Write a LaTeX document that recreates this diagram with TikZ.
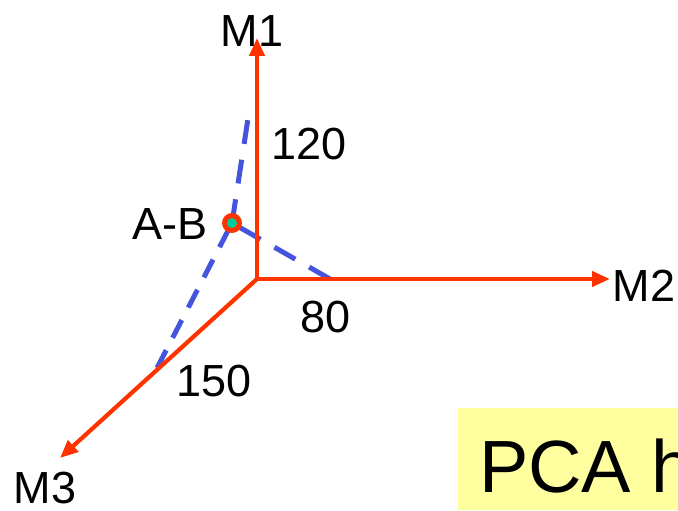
\documentclass[tikz,border=0pt]{standalone}
\usepackage{fontspec}
\setmainfont{Liberation Sans}
\usetikzlibrary{arrows.meta}
\definecolor{axisred}{RGB}{255,51,0}
\definecolor{dashblue}{RGB}{68,84,221}
\definecolor{dotteal}{RGB}{0,204,153}
\definecolor{boxyellow}{RGB}{255,255,160}
\begin{document}
\begin{tikzpicture}[x=1pt,y=1pt,
  axis/.style={draw=axisred,line width=4.2pt,-{Triangle[length=18pt,width=15pt]}},
  proj/.style={draw=dashblue,line width=5pt,dash pattern=on 24pt off 16pt},
  lbl/.style={inner sep=0pt,anchor=base,font=\fontsize{45}{50}\selectfont}]
\useasboundingbox (0,0) rectangle (678,511);
\clip (0,0) rectangle (678,511);
\coordinate (O) at (257,232);
\coordinate (T1) at (257,473);
\coordinate (T2) at (610,232);
\coordinate (T3) at (60,53);
\coordinate (P) at (232,288);
\coordinate (D1) at (249,399);
\coordinate (D2) at (330,232);
\coordinate (D3) at (157,143);
\draw[proj] (P) -- (D1);
\draw[proj] (D2) -- (P);
\draw[proj,dash pattern=on 20pt off 14pt] (D3) -- (P);
\draw[axis] (O) -- (T1);
\draw[axis] (O) -- (T2);
\draw[axis] (O) -- (T3);
\fill[axisred] (P) circle (10pt);
\fill[dotteal] (P) circle (5pt);
\node[lbl] (m1) at (252,464) {M1};
\node[lbl] (n120) at (309,351) {120};
\node[lbl] (ab) at (170,271) {A-B};
\node[lbl] (n80) at (326,178) {80};
\node[lbl] (m2) at (644,209) {M2};
\node[lbl] (n150) at (214,114) {150};
\node[lbl] (m3) at (45,7) {M3};
\fill[boxyellow] (458,1) rectangle (690,103);
\node[inner sep=0pt,anchor=base west,font=\fontsize{74}{80}\selectfont] (pca) at (479,18) {PCA h};
\end{tikzpicture}
\end{document}
